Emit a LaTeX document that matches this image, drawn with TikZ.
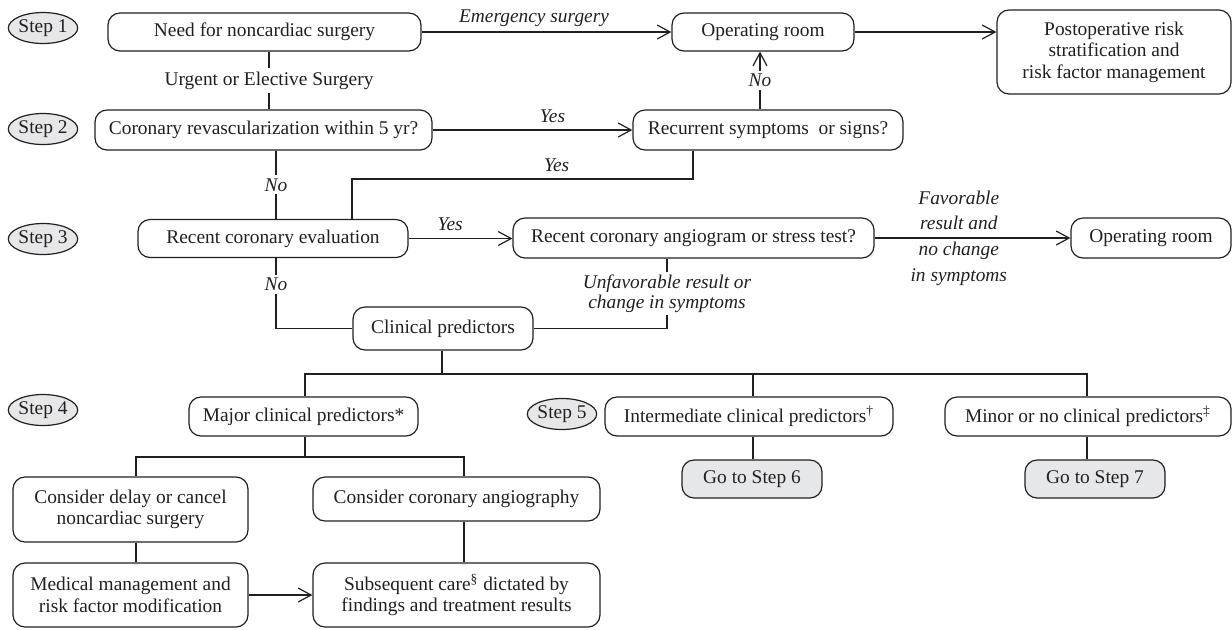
\documentclass[tikz,border=0pt]{standalone}
\usepackage{fontspec}
\setmainfont{Liberation Serif}
\usetikzlibrary{arrows.meta,shapes.geometric}
\definecolor{ink}{HTML}{231F20}
\definecolor{shade}{HTML}{E6E7E8}
\begin{document}
\begin{tikzpicture}[x=0.5pt,y=-0.5pt,
  every node/.style={text=ink},
  txt/.style={font=\fontsize{9.7}{10.8}\selectfont},
  box/.style={txt, draw=ink, rounded corners=6pt, line width=0.6pt, inner sep=0pt, align=center},
  gobox/.style={box, fill=shade},
  stepel/.style={txt, draw=ink, ellipse, fill=shade, line width=0.6pt, inner sep=0pt, minimum width=32pt, minimum height=15.5pt},
  conn/.style={draw=ink, line width=0.6pt},
  arr/.style={conn, -{Straight Barb[length=6.5pt,width=7pt,line width=0.6pt]}},
  lab/.style={font=\fontsize{9.7}{10.8}\selectfont\itshape, inner sep=1.5pt},
  wlab/.style={lab, fill=white},
]
\useasboundingbox (0,0) rectangle (1232,629);

% step markers
\node[stepel] (s1) at (43,28) {Step 1};
\node[stepel] (s2) at (43,129) {Step 2};
\node[stepel] (s3) at (43,239) {Step 3};
\node[stepel] (s4) at (43,410) {Step 4};
\node[stepel, minimum width=30pt] (s5) at (562,414) {Step 5};

% boxes
\node[box, minimum width=156.5pt, minimum height=19pt] (need) at (264.5,32) {Need for noncardiac surgery};
\node[box, minimum width=91pt, minimum height=19pt] (op1) at (763,32) {Operating room};
\node[box, minimum width=117pt, minimum height=42pt] (post) at (1114,52) {Postoperative risk\\stratification and\\risk factor management};
\node[box, minimum width=168.5pt, minimum height=20pt] (corrv) at (263.5,130) {Coronary revascularization within 5 yr?};
\node[box, minimum width=135pt, minimum height=20pt] (recur) at (768,130) {Recurrent symptoms\ \ or signs?};
\node[box, minimum width=135pt, minimum height=19pt] (receval) at (273,238.5) {Recent coronary evaluation};
\node[box, minimum width=180.5pt, minimum height=20pt] (angio) at (693.5,238) {Recent coronary angiogram or stress test?};
\node[box, minimum width=80pt, minimum height=20pt] (op2) at (1151,238) {Operating room};
\node[box, minimum width=90pt, minimum height=21.5pt] (clin) at (443,328.5) {Clinical predictors};
\node[box, minimum width=114.5pt, minimum height=19.5pt] (major) at (303.5,416.5) {Major clinical predictors*};
\node[box, minimum width=144pt, minimum height=19.5pt] (inter) at (749,416.5) {Intermediate clinical predictors\textsuperscript{\dag}};
\node[box, minimum width=143pt, minimum height=19.5pt] (minor) at (1088,416.5) {Minor or no clinical predictors\textsuperscript{\ddag}};
\node[gobox, minimum width=70pt, minimum height=19pt] (go6) at (752,479) {Go to Step 6};
\node[gobox, minimum width=70pt, minimum height=19pt] (go7) at (1095,479) {Go to Step 7};
\node[box, minimum width=117.5pt, minimum height=32.5pt] (delay) at (130.5,509.5) {Consider delay or cancel\\noncardiac surgery};
\node[box, minimum width=143.5pt, minimum height=22pt] (angiog) at (456.5,499) {Consider coronary angiography};
\node[box, minimum width=117.5pt, minimum height=32pt] (med) at (130.5,595) {Medical management and\\risk factor modification};
\node[box, minimum width=143.5pt, minimum height=32pt] (subs) at (456.5,595) {Subsequent care\textsuperscript{\S} dictated by\\findings and treatment results};

% guide coordinates
\coordinate (v1) at (269,0);
\coordinate (v2) at (760,0);
\coordinate (v3) at (276,0);
\coordinate (v4) at (352,0);
\coordinate (v5) at (693,0);
\coordinate (v6) at (667,0);
\coordinate (v7) at (442,0);
\coordinate (v8) at (305,0);
\coordinate (v9) at (753,0);
\coordinate (v10) at (1087,0);
\coordinate (v11) at (136,0);
\coordinate (v12) at (464,0);
\coordinate (h1) at (0,179);
\coordinate (h2) at (0,374);
\coordinate (h3) at (0,457);

% connectors
\draw[arr] (need.east) -- node[lab, above=1pt, pos=0.45] {Emergency surgery} (op1.west);
\draw[arr] (op1.east) -- (post.west |- op1.east);
\draw[conn] (need.south -| v1) -- node[txt, fill=white, inner sep=2pt] {Urgent or Elective Surgery} (corrv.north -| v1);
\draw[arr] (corrv.east) -- node[lab, above=2pt, pos=0.6] {Yes} (recur.west);
\draw[arr] (recur.north -| v2) -- node[wlab] {No} (op1.south -| v2);
\draw[conn] (corrv.south -| v3) -- node[wlab] {No} (receval.north -| v3);
\draw[conn] (receval.north -| v4) -- (v4 |- h1) -- node[lab, above=2pt, pos=0.6] {Yes} (v5 |- h1) -- (recur.south -| v5);
\draw[arr] (receval.east) -- node[lab, above=2pt, pos=0.4] {Yes} (receval.east -| angio.west);
\draw[arr] (angio.east) -- node[lab, pos=0.43, align=center, font=\fontsize{9.7}{12.8}\selectfont\itshape] {Favorable\\result and\\no change\\in symptoms} (op2.west);
\draw[conn] (receval.south -| v3) -- node[wlab, pos=0.37] {No} (v3 |- clin.west) -- (clin.west);
\draw[conn] (angio.south -| v6) -- node[wlab, align=center, font=\fontsize{9.7}{10}\selectfont\itshape] {Unfavorable result or\\change in symptoms} (v6 |- clin.east) -- (clin.east);
\draw[conn] (clin.south -| v7) -- (v7 |- h2);
\draw[conn] (major.north -| v8) -- (v8 |- h2) -- (v10 |- h2) -- (minor.north -| v10);
\draw[conn] (v9 |- h2) -- (inter.north -| v9);
\draw[conn] (inter.south -| v9) -- (go6.north -| v9);
\draw[conn] (minor.south -| v10) -- (go7.north -| v10);
\draw[conn] (major.south -| v8) -- (v8 |- h3);
\draw[conn] (delay.north -| v11) -- (v11 |- h3) -- (v12 |- h3) -- (angiog.north -| v12);
\draw[conn] (delay.south -| v11) -- (med.north -| v11);
\draw[conn] (angiog.south -| v12) -- (subs.north -| v12);
\draw[arr] (med.east) -- (subs.west);
\end{tikzpicture}
\end{document}
